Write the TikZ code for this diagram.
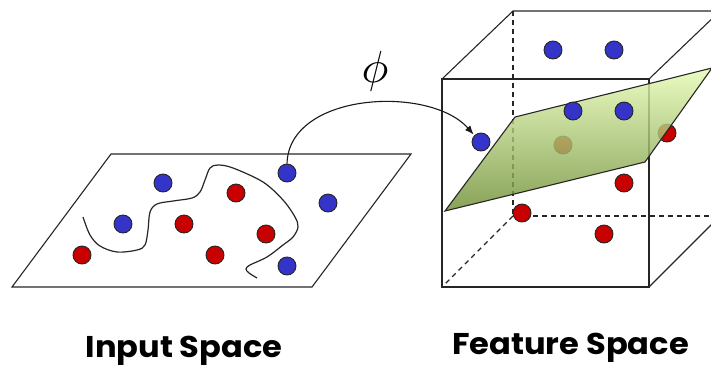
\documentclass[tikz,border=0pt]{standalone}
\usepackage{fontspec}
\newfontfamily\labelfont{Poppins}
\usetikzlibrary{arrows.meta}
\definecolor{dotblue}{HTML}{3434C8}
\definecolor{dotred}{HTML}{C80000}
\definecolor{planetop}{HTML}{E6FBB4}
\definecolor{planebot}{HTML}{6E8E34}
\tikzset{
  bdot/.style={circle, draw=black!85, line width=0.9pt, inner sep=0pt, minimum size=18pt, fill=dotblue},
  rdot/.style={circle, draw=black!85, line width=0.9pt, inner sep=0pt, minimum size=18pt, fill=dotred},
  edge/.style={line width=1.1pt, draw=black!85},
  hidden/.style={line width=1.1pt, draw=black!85, dash pattern=on 5pt off 4pt},
  caption/.style={font=\labelfont\bfseries\fontsize{30}{33}\selectfont, anchor=base, inner sep=0pt},
}
\begin{document}
\begin{tikzpicture}[x=1pt,y=-1pt]
\useasboundingbox (0,0) rectangle (711,367);
% ---------- input space ----------
\draw[edge] (111,154) -- (411,154) -- (312,287) -- (12,287) -- cycle;
\draw[line width=1.2pt, black!85] plot[smooth, tension=0.55] coordinates {
 (83,217) (90,235) (100,246) (117,252) (137,250) (145,245) (148,230) (150,212)
 (157,204) (173,201) (192,198) (200,192) (205,180) (210,168) (218,165) (233,168)
 (263,182) (283,200) (295,217) (298,227) (293,237) (283,245) (267,257) (250,265)
 (246,269) (249,273) (257,278)};
\node[bdot] (i1) at (163,183) {};
\node[bdot] (i2) at (123,224) {};
\node[rdot] (i3) at (82,255) {};
\node[rdot] (i4) at (184,224) {};
\node[rdot] (i5) at (236,193) {};
\node[rdot] (i6) at (215,255) {};
\node[rdot] (i7) at (266,234) {};
\node[bdot] (i8) at (287,173) {};
\node[bdot] (i9) at (328,203) {};
\node[bdot] (i10) at (287,266) {};
% ---------- feature space cube ----------
\coordinate (ftl) at (442,79);
\coordinate (ftr) at (649,79);
\coordinate (fbl) at (442,287);
\coordinate (fbr) at (649,287);
\coordinate (btl) at (513,11);
\coordinate (btr) at (720,11);
\coordinate (bbl) at (513,216);
\coordinate (bbr) at (720,216);
\draw[hidden] (btl) -- (bbl) -- (bbr);
\draw[hidden] (bbl) -- (fbl);
\draw[edge] (ftl) -- (btl) -- (btr);
\draw[edge] (ftr) -- (btr);
\draw[edge] (fbr) -- (bbr);
\draw[edge] (ftl) rectangle (fbr);
% dots behind the plane
\node[rdot] (f6) at (563,145) {};
\node[rdot] (f7) at (667,133) {};
\node[bdot] (f1) at (553,50) {};
\node[bdot] (f2) at (614,50) {};
\node[rdot] (f8) at (624,183) {};
\node[rdot] (f9) at (522,213) {};
\node[rdot] (f10) at (604,234) {};
% separating plane
\shade[top color=planetop, bottom color=planebot, fill opacity=0.82, shading angle=0]
  (445,211) -- (515,117) -- (712,68) -- (645,162) -- cycle;
\draw[edge] (445,211) -- (515,117) -- (712,68) -- (645,162) -- cycle;
% dots in front of the plane
\node[bdot] (f3) at (573,111) {};
\node[bdot] (f4) at (624,111) {};
\node[bdot] (f5) at (481,142) {};
% ---------- mapping ----------
\draw[line width=1.1pt, black!90, -{Latex[length=9pt,width=7pt]}, shorten >=1pt]
  (i8.north) .. controls (289,92) and (430,85) .. (f5.north west);
\node[inner sep=0pt] (phi) at (375,71) {\scalebox{4.5}{$\phi$}};
% ---------- captions ----------
\node[caption] (lin) at (184,357) {\scalebox{1.07}[1]{Input Space}};
\node[caption] (lfe) at (570.5,354) {\scalebox{1.07}[1]{Feature Space}};
\end{tikzpicture}
\end{document}
